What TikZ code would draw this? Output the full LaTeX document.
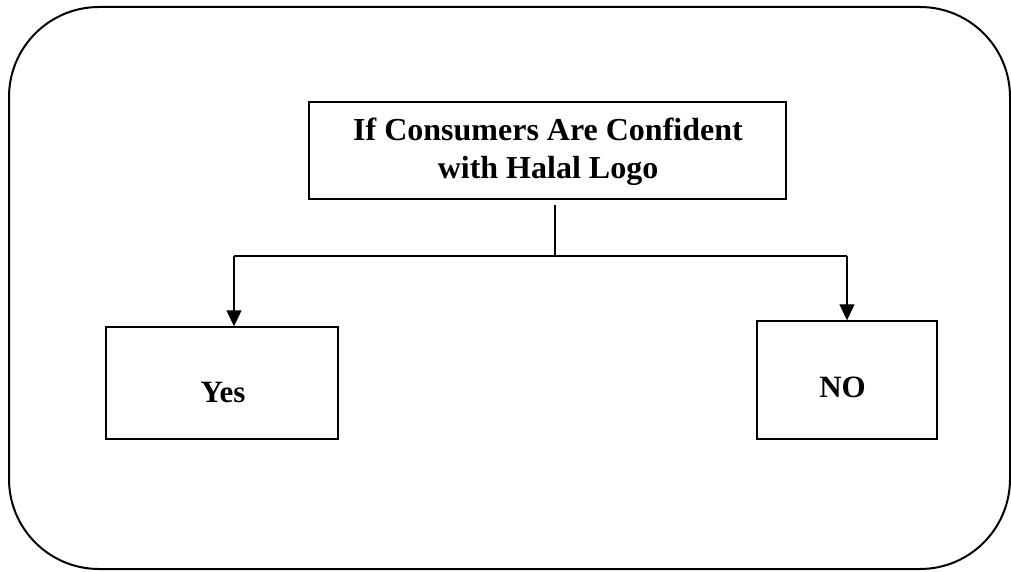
\documentclass[tikz,border=0pt]{standalone}
\usepackage{fontspec}
\setmainfont{Liberation Serif}
\usetikzlibrary{arrows.meta}
\tikzset{
  frame/.style={draw, line width=2pt, rounded corners=90pt},
  boxnode/.style={draw, line width=1.4pt, inner sep=0pt},
  label text/.style={font=\bfseries\fontsize{31}{38}\selectfont, inner sep=0pt},
  link/.style={line width=1.3pt},
  arrowlink/.style={link, -{Triangle[width=15pt,length=16pt]}}
}
\begin{document}
\begin{tikzpicture}[x=1pt,y=-1pt]
  \useasboundingbox (0,0) rectangle (1011,572);
  % outer rounded frame
  \draw[frame] (9,7) rectangle (1010,569);
  % boxes
  \node[boxnode, minimum width=477pt, minimum height=97pt] (q) at (547.5,150.5) {};
  \node[boxnode, minimum width=232pt, minimum height=112pt] (yes) at (222,383) {};
  \node[boxnode, minimum width=180pt, minimum height=118pt] (no) at (847,380) {};
  % texts
  \node[label text, align=center, font=\bfseries\fontsize{32}{38}\selectfont] (qt) at (548,152)
    {If Consumers Are Confident\\with Halal Logo};
  \node[label text, anchor=base] (yt) at (223,402) {Yes};
  \node[label text, anchor=base] (nt) at (842.5,397) {NO};
  % connectors
  \coordinate (split) at (555,256);
  \coordinate (ltop) at (234,256);
  \coordinate (rtop) at (847,256);
  \draw[link] ([yshift=-5pt]q.south -| split) -- (split);
  \draw[link] (ltop) -- (rtop);
  \draw[arrowlink] (ltop) -- (yes.north -| ltop);
  \draw[arrowlink] (rtop) -- (no.north -| rtop);
\end{tikzpicture}
\end{document}
